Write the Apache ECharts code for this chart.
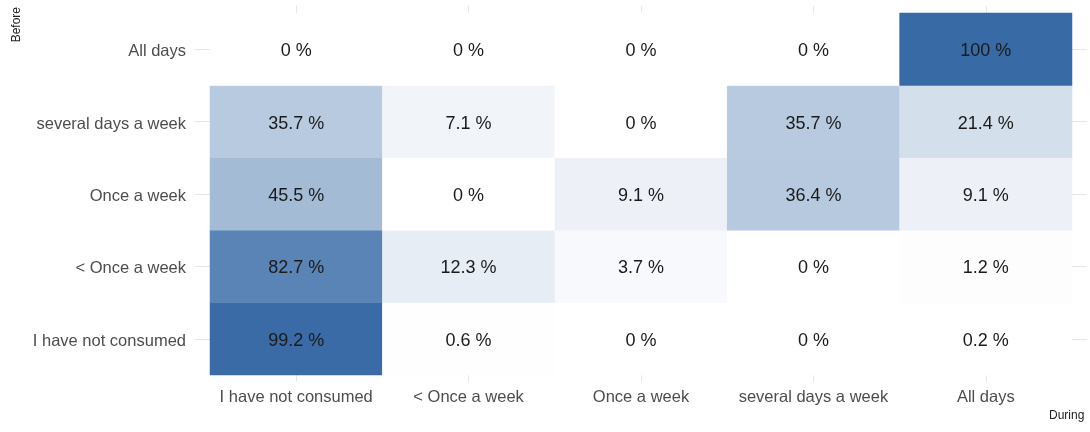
<!DOCTYPE html>
<html>
<head>
<meta charset="utf-8">
<script src="https://cdn.jsdelivr.net/npm/echarts@6/dist/echarts.min.js"></script>
<style>html,body{margin:0;padding:0;background:#fff}#c{width:1090px;height:432px}</style>
</head>
<body>
<div id="c"></div>
<script>
const duringCats = ['I have not consumed', '< Once a week', 'Once a week', 'several days a week', 'All days'];
const beforeCats = ['I have not consumed', '< Once a week', 'Once a week', 'several days a week', 'All days'];
// one array per "Before" row, values across "During" columns
const rowNotConsumed = [99.2, 0.6, 0, 0, 0.2];
const rowLessOnce = [82.7, 12.3, 3.7, 0, 1.2];
const rowOnce = [45.5, 0, 9.1, 36.4, 9.1];
const rowSeveral = [35.7, 7.1, 0, 35.7, 21.4];
const rowAllDays = [0, 0, 0, 0, 100];

const rows = [rowNotConsumed, rowLessOnce, rowOnce, rowSeveral, rowAllDays];
const data = [];
rows.forEach((r, yi) => r.forEach((v, xi) => data.push([xi, yi, v])));

const FONT = 'Liberation Sans, Arial, sans-serif';
const tickStyle = { color: '#e6e6e6', width: 1 };

const chart = echarts.init(document.getElementById('c'), null, { renderer: 'canvas' });
chart.setOption({
  animation: false,
  textStyle: { fontFamily: FONT },
  grid: { left: 210, right: 18, top: 13, bottom: 57 },
  xAxis: [
    {
      type: 'category', data: duringCats, position: 'bottom',
      axisLine: { show: false },
      axisTick: { show: true, alignWithLabel: true, length: 7, lineStyle: tickStyle },
      axisLabel: { color: '#4d4d4d', fontSize: 16.5, margin: 14, interval: 0, fontFamily: FONT },
      splitLine: { show: false }
    },
    {
      type: 'category', data: duringCats, position: 'top',
      axisLine: { show: false },
      axisTick: { show: true, alignWithLabel: true, length: 7, lineStyle: tickStyle },
      axisLabel: { show: false }
    }
  ],
  yAxis: [
    {
      type: 'category', data: beforeCats, position: 'left',
      axisLine: { show: false },
      axisTick: { show: true, alignWithLabel: true, length: 15, lineStyle: tickStyle },
      axisLabel: {
        interval: 0, margin: 24,
        formatter: v => '{a|' + v + '}',
        rich: { a: { color: '#4d4d4d', fontSize: 16.5, fontFamily: FONT, padding: [5, 0, 0, 0] } }
      },
      splitLine: { show: false }
    },
    {
      type: 'category', data: beforeCats, position: 'right',
      axisLine: { show: false },
      axisTick: { show: true, alignWithLabel: true, length: 15, lineStyle: tickStyle },
      axisLabel: { show: false }
    }
  ],
  visualMap: {
    show: false, type: 'continuous', min: 0, max: 100, dimension: 2,
    inRange: { color: ['#ffffff', '#386aa5'] }
  },
  series: [{
    type: 'heatmap',
    data: data,
    label: {
      show: true, fontSize: 18, color: '#1a1a1a', fontFamily: FONT,
      offset: [0, 2],
      formatter: p => p.value[2] + ' %'
    },
    itemStyle: { borderWidth: 0 },
    emphasis: { disabled: true }
  }],
  graphic: [
    { type: 'text', left: 11, top: 7, rotation: Math.PI / 2,
      style: { text: 'Before', fontSize: 12, fill: '#222', fontFamily: FONT } },
    { type: 'text', left: 1049, top: 410,
      style: { text: 'During', fontSize: 12, fill: '#222', fontFamily: FONT } }
  ]
});
</script>
</body>
</html>
